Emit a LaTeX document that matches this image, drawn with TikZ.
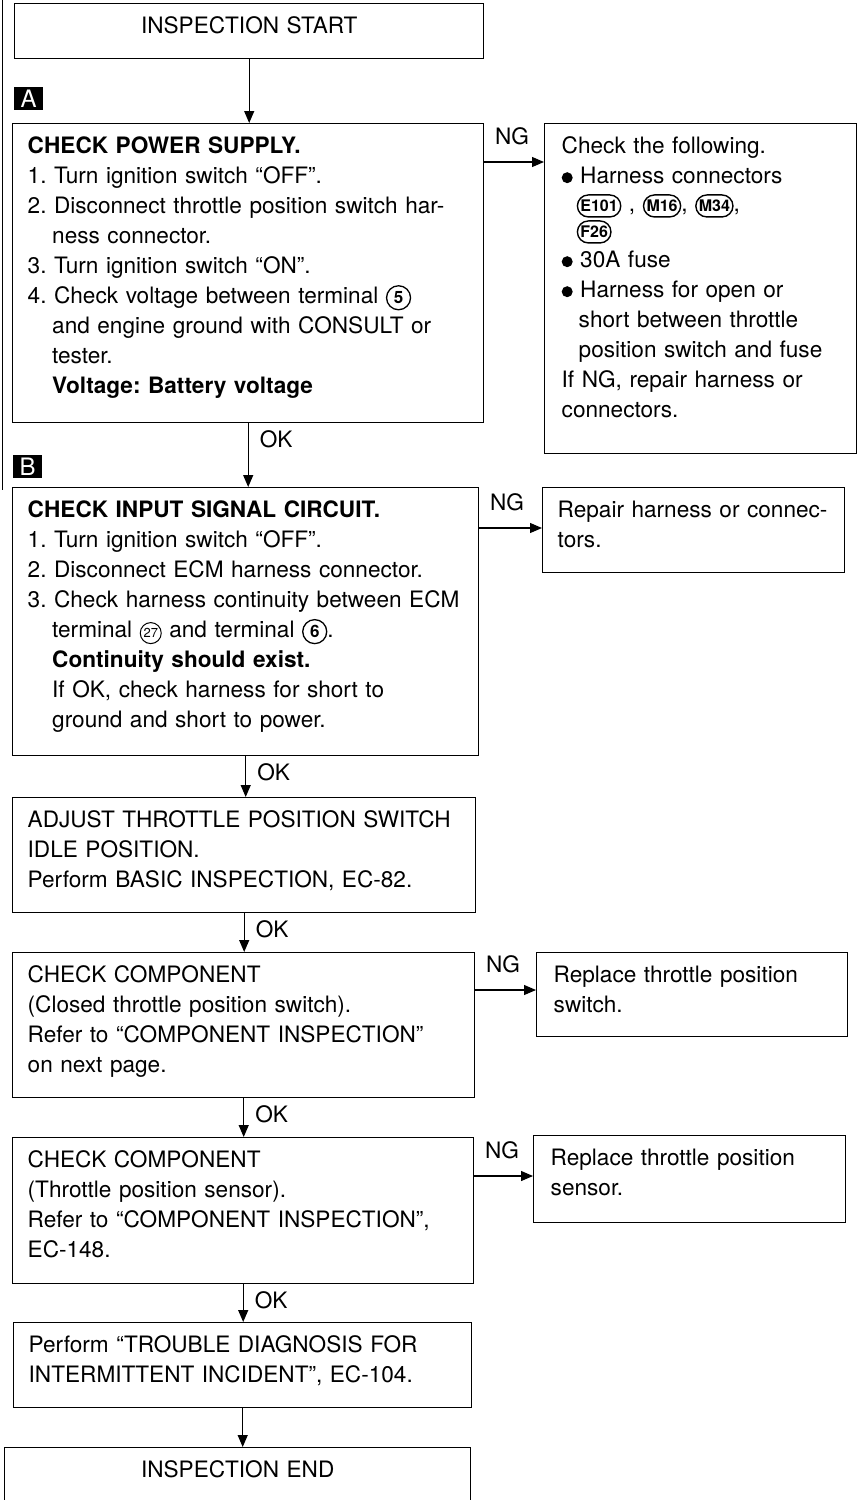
\documentclass[tikz,border=0pt]{standalone}
\usepackage{fontspec}
\setmainfont{TeX Gyre Heros}
\usetikzlibrary{arrows.meta,shapes.geometric,positioning}
\frenchspacing

% circled terminal number and connector oval inside the text
\newcommand{\tnum}[2][]{\tikz[baseline=(tn.base)]\node[draw, circle, line width=1.3pt, inner sep=0pt, minimum size=24pt,
  text width=, text height=, text depth=, align=center, anchor=base,
  font=\fontsize{17}{17}\selectfont\bfseries, #1] (tn) {#2};}
\newcommand{\conn}[1]{\tikz[baseline=(cn.base)]\node[draw, rectangle, rounded corners=11pt, line width=1.4pt,
  inner xsep=3pt, inner ysep=0pt, minimum height=22pt, minimum width=0pt, text width=, text height=, text depth=,
  align=center, anchor=base, font=\fontsize{16}{16}\selectfont\bfseries] (cn) {#1};}
\newcommand{\blt}{\tikz[baseline=0pt]\fill (0pt,6pt) circle (5.5pt);}

\tikzset{
  txt/.style={font=\fontsize{22.6}{30}\selectfont},
  stepbox/.style={txt, draw, line width=1.4pt, anchor=north west, inner xsep=15pt, inner ysep=0pt,
    text height=30pt, align=left},
  fixbox/.style={stepbox, inner xsep=17pt},
  endbox/.style={stepbox, align=center},
  letterbox/.style={fill=black, text=white, anchor=north west, inner sep=0pt, minimum width=29pt,
    minimum height=23pt, font=\fontsize{24}{24}\selectfont},
  flow/.style={-{Triangle[length=12pt,width=10pt]}, line width=1.2pt},
  oklab/.style={txt, anchor=base west, inner sep=0pt, xshift=11pt, yshift=-24pt},
  nglab/.style={txt, anchor=base west, inner sep=0pt, xshift=10pt, yshift=18pt},
}

\begin{document}
\begin{tikzpicture}[x=1pt, y=-1pt]
\useasboundingbox (0,0) rectangle (857,1500);
\draw[line width=1pt] (2,0) -- (2,490);

\node[endbox, text width=439pt, text depth=25pt] (start) at (14,3) {INSPECTION START};

\node[letterbox] (lblA) at (14,87) {A};
\node[stepbox, text width=441pt, text depth=269pt] (pwr) at (12,123) {%
\textbf{CHECK POWER SUPPLY.}\\
1. Turn ignition switch “OFF”.\\
2. Disconnect throttle position switch har-\\
\hspace*{24.5pt}ness connector.\\
3. Turn ignition switch “ON”.\\
4. Check voltage between terminal \tnum{5}\\
\hspace*{24.5pt}and engine ground with CONSULT or\\
\hspace*{24.5pt}tester.\\
\hspace*{24.5pt}\textbf{Voltage: Battery voltage}};

\node[fixbox, text width=278pt, text depth=300pt] (harn) at (544,123) {%
Check the following.\\
\blt\ Harness connectors\\[-2pt]
\hspace*{15pt}\conn{E101} , \conn{M16}, \conn{M34},\\[-4pt]
\hspace*{15pt}\conn{F26}\\
\blt\ 30A fuse\\
\blt\ Harness for open or\\
\hspace*{17pt}short between throttle\\
\hspace*{17pt}position switch and fuse\\
If NG, repair harness or\\
connectors.};

\node[letterbox] (lblB) at (13,455) {B};
\node[stepbox, text width=436pt, text depth=238pt] (sig) at (12,487) {%
\textbf{CHECK INPUT SIGNAL CIRCUIT.}\\
1. Turn ignition switch “OFF”.\\
2. Disconnect ECM harness connector.\\
3. Check harness continuity between ECM\\
\hspace*{24.5pt}terminal \tnum[minimum size=21pt, line width=1pt, font=\fontsize{13}{13}\selectfont]{27} and terminal \tnum{6}.\\
\hspace*{24.5pt}\textbf{Continuity should exist.}\\
\hspace*{24.5pt}If OK, check harness for short to\\
\hspace*{24.5pt}ground and short to power.};

\node[fixbox, inner xsep=15pt, text width=272pt, text depth=55pt] (rep) at (542,487) {%
Repair harness or connec-\\
tors.};

\node[stepbox, text width=433pt, text depth=85pt] (adj) at (12,797) {%
ADJUST THROTTLE POSITION SWITCH\\
IDLE POSITION.\\
Perform BASIC INSPECTION, EC-82.};

\node[stepbox, text width=432pt, text depth=115pt] (sw) at (12,952) {%
CHECK COMPONENT\\
(Closed throttle position switch).\\
Refer to “COMPONENT INSPECTION”\\
on next page.};

\node[fixbox, text width=277pt, text depth=54pt] (repsw) at (536,952) {%
Replace throttle position\\
switch.};

\node[stepbox, text width=431pt, text depth=116pt] (sen) at (12,1137) {%
CHECK COMPONENT\\
(Throttle position sensor).\\
Refer to “COMPONENT INSPECTION”,\\
EC-148.};

\node[fixbox, text width=278pt, text depth=57pt] (repsen) at (533,1135) {%
Replace throttle position\\
sensor.};

\node[stepbox, text width=428pt, text depth=55pt] (intm) at (13,1322) {%
Perform “TROUBLE DIAGNOSIS FOR\\
INTERMITTENT INCIDENT”, EC-104.};

\node[endbox, text width=436pt, text depth=30pt] (finish) at (4,1447) {INSPECTION END};

% main line
\draw[flow] (start.south) -- (start.south |- pwr.north);
\draw[flow] (pwr.south) -- (pwr.south |- sig.north) node[oklab, pos=0] {OK};
\draw[flow] (sig.south) -- (sig.south |- adj.north) node[oklab, pos=0] {OK};
\draw[flow] (adj.south) -- (adj.south |- sw.north) node[oklab, pos=0] {OK};
\draw[flow] (sw.south) -- (sw.south |- sen.north) node[oklab, pos=0] {OK};
\draw[flow] (sen.south) -- (sen.south |- intm.north) node[oklab, pos=0] {OK};
\draw[flow] (intm.south) -- (intm.south |- finish.north);

% NG branches
\coordinate (ngA) at ([yshift=-39pt]pwr.north east);
\coordinate (ngB) at ([yshift=-41pt]sig.north east);
\coordinate (ngD) at ([yshift=-38pt]sw.north east);
\coordinate (ngE) at ([yshift=-39pt]sen.north east);
\draw[flow] (ngA) -- (ngA -| harn.west) node[nglab, pos=0] {NG};
\draw[flow] (ngB) -- (ngB -| rep.west) node[nglab, pos=0] {NG};
\draw[flow] (ngD) -- (ngD -| repsw.west) node[nglab, pos=0] {NG};
\draw[flow] (ngE) -- (ngE -| repsen.west) node[nglab, pos=0] {NG};
\end{tikzpicture}
\end{document}
